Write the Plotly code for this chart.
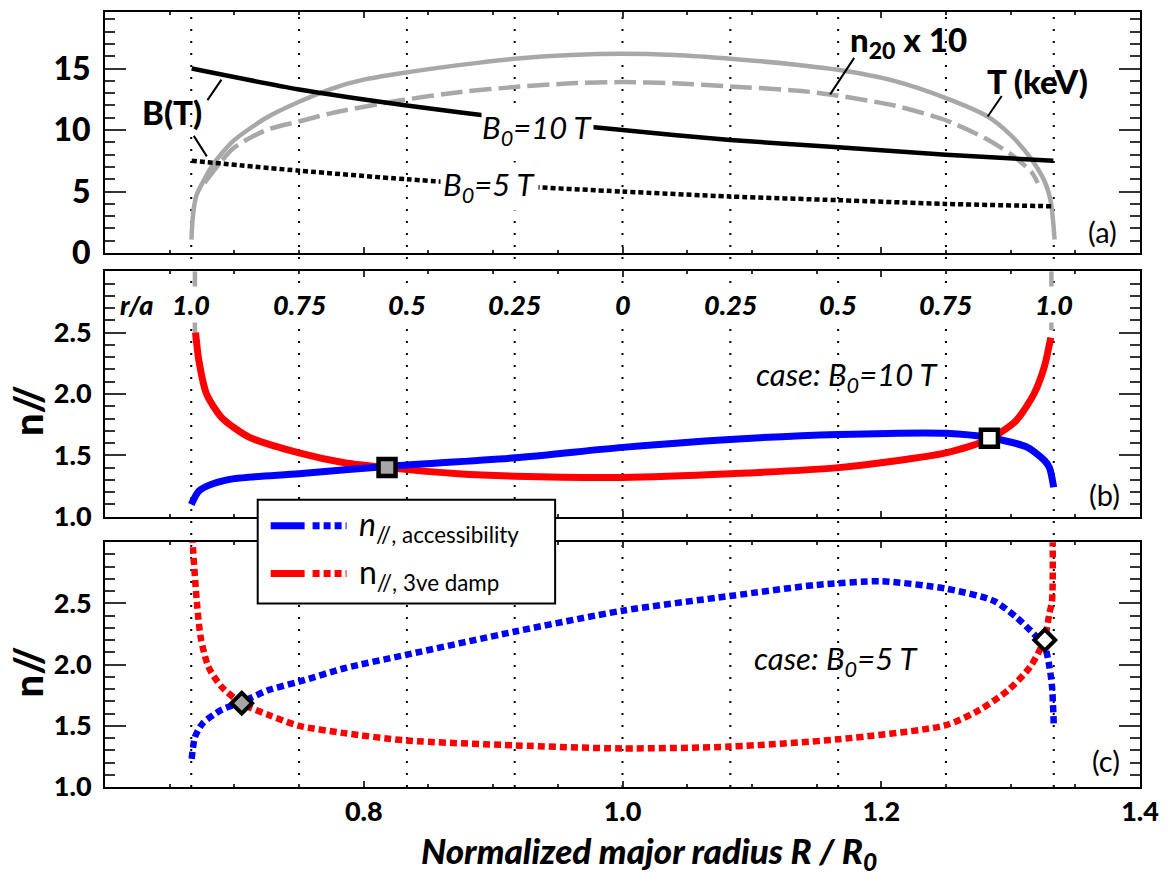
import plotly.graph_objects as go

# ---------------- data ----------------
# panel (a): profiles vs normalized major radius
R_T = [0.6668, 0.668, 0.6707, 0.6758, 0.6835, 0.699, 0.7247, 0.75, 0.776, 0.80, 0.8275, 0.875,
       0.9167, 0.96, 1.0, 1.04, 1.0833, 1.136, 1.1667, 1.21, 1.25, 1.2824, 1.30, 1.3156, 1.3264, 1.331, 1.334]
T_keV = [1.1, 3.1, 4.7, 5.8, 7.2, 9.1, 11.0, 12.3, 13.4, 14.1, 14.6, 15.3,
         15.8, 16.1, 16.2, 16.1, 15.8, 15.3, 14.9, 14.0, 12.6, 11.1, 9.6, 7.7, 5.8, 4.2, 1.1]

R_n = [0.677, 0.699, 0.7247, 0.75, 0.776, 0.8275, 0.875, 0.9167, 0.96, 1.0, 1.04, 1.0833,
       1.136, 1.1604, 1.21, 1.25, 1.28, 1.3006, 1.316, 1.321]
n20_x10 = [5.7, 8.5, 10.0, 10.7, 11.4, 12.4, 13.1, 13.5, 13.8, 13.9, 13.8, 13.55,
           13.2, 12.9, 12.0, 10.8, 9.35, 8.0, 6.6, 5.7]

R_B = [0.667, 0.75, 0.8333, 0.9167, 1.0, 1.0833, 1.1667, 1.25, 1.333]
B_10T = [15.0, 13.3, 12.0, 10.9, 10.0, 9.2, 8.6, 8.0, 7.5]
B_5T = [7.5, 6.7, 6.0, 5.45, 5.0, 4.6, 4.3, 4.0, 3.8]

# grey T-profile stubs visible at the top of panel (b)
R_stub = [0.6695, 0.6695, None, 1.3315, 1.3315]
T_stub = [3.0, 2.43, None, 3.0, 2.52]

# panel (b): B0 = 10 T
R_acc_10 = [0.6667, 0.6726, 0.684, 0.70, 0.75, 0.818, 0.917, 1.0, 1.083, 1.167, 1.25, 1.283,
            1.313, 1.326, 1.330, 1.3333]
n_acc_10 = [1.10, 1.21, 1.27, 1.31, 1.35, 1.41, 1.48, 1.565, 1.63, 1.67, 1.68, 1.645,
            1.565, 1.46, 1.40, 1.24]
R_damp_10 = [0.670, 0.6726, 0.6785, 0.690, 0.711, 0.75, 0.785, 0.818, 0.873, 0.917, 1.0, 1.083,
             1.167, 1.25, 1.283, 1.304, 1.318, 1.326, 1.331]
n_damp_10 = [2.50, 2.27, 2.0, 1.81, 1.65, 1.52, 1.44, 1.40, 1.35, 1.33, 1.32, 1.35,
             1.40, 1.52, 1.63, 1.78, 2.0, 2.22, 2.46]
R_cross_10 = [0.818, 1.2836]
n_cross_10 = [1.40, 1.64]

# panel (c): B0 = 5 T
R_acc_5 = [0.667, 0.6696, 0.6755, 0.690, 0.706, 0.726, 0.75, 0.785, 0.833, 0.917, 1.0, 1.083,
           1.15, 1.2, 1.25, 1.287, 1.304, 1.318, 1.326, 1.330, 1.332, 1.3333]
n_acc_5 = [1.23, 1.41, 1.52, 1.63, 1.695, 1.79, 1.86, 1.97, 2.08, 2.27, 2.44, 2.56,
           2.65, 2.68, 2.62, 2.52, 2.39, 2.25, 2.16, 1.98, 1.82, 1.52]
R_damp_5 = [0.6675, 0.668, 0.671, 0.674, 0.68, 0.690, 0.706, 0.726, 0.75, 0.785, 0.833, 0.917,
            1.0, 1.083, 1.167, 1.25, 1.276, 1.298, 1.315, 1.326, 1.330, 1.332, 1.3325]
n_damp_5 = [3.05, 2.95, 2.51, 2.22, 1.98, 1.82, 1.68, 1.59, 1.50, 1.44, 1.38, 1.34,
            1.315, 1.33, 1.39, 1.505, 1.63, 1.79, 1.98, 2.20, 2.42, 2.52, 3.05]
R_cross_5 = [0.7057, 1.3264]
n_cross_5 = [1.685, 2.20]
cross_fill = ['#a6a6a6', 'white']

# r/a grid (a/R0 = 1/3)
ra_labels = ['1.0', '0.75', '0.5', '0.25', '0', '0.25', '0.5', '0.75', '1.0']
ra_values = [1.0, 0.75, 0.5, 0.25, 0.0, 0.25, 0.5, 0.75, 1.0]
ra_side = [-1, -1, -1, -1, 0, 1, 1, 1, 1]
a_over_R0 = 1.0 / 3.0

x_ticks = [0.6, 0.8, 1.0, 1.2, 1.4]
x_ticktext = ['', '0.8', '1.0', '1.2', '1.4']
ya_ticks = [0, 5, 10, 15]
yn_ticks = [1.0, 1.5, 2.0, 2.5]
yn_ticktext = ['1.0', '1.5', '2.0', '2.5']

# ---------------- figure ----------------
GREY = '#a8a8a8'
BLUE = '#0000ff'
RED = '#ff0000'
FONT = 'Lato'
HEAVY = 900
W, H = 1169, 877
ML, MR, MT, MB = 105, 27, 10, 90
PW, PH = W - ML - MR, H - MT - MB


def px(xp, yp):
    return (xp - ML) / PW, (H - MB - yp) / PH


SM = dict(shape='spline', smoothing=0.7)
fig = go.Figure()

# panel (a)
fig.add_trace(go.Scatter(x=R_T, y=T_keV, mode='lines', line=dict(color=GREY, width=4.5, **SM),
                         xaxis='x', yaxis='y', showlegend=False))
fig.add_trace(go.Scatter(x=R_n, y=n20_x10, mode='lines',
                         line=dict(color=GREY, width=4.5, dash='22px,7px', **SM),
                         xaxis='x', yaxis='y', showlegend=False))
fig.add_trace(go.Scatter(x=R_B, y=B_10T, mode='lines', line=dict(color='black', width=4.5, **SM),
                         xaxis='x', yaxis='y', showlegend=False))
fig.add_trace(go.Scatter(x=R_B, y=B_5T, mode='lines',
                         line=dict(color='black', width=4.5, dash='5px,3px', **SM),
                         xaxis='x', yaxis='y', showlegend=False))

# panel (b)
fig.add_trace(go.Scatter(x=R_stub, y=T_stub, mode='lines', line=dict(color=GREY, width=4.5),
                         xaxis='x2', yaxis='y2', showlegend=False))
fig.add_trace(go.Scatter(x=R_damp_10, y=n_damp_10, mode='lines', line=dict(color=RED, width=7, **SM),
                         xaxis='x2', yaxis='y2', showlegend=False))
fig.add_trace(go.Scatter(x=R_acc_10, y=n_acc_10, mode='lines', line=dict(color=BLUE, width=7, **SM),
                         xaxis='x2', yaxis='y2', showlegend=False))
fig.add_trace(go.Scatter(x=R_cross_10, y=n_cross_10, mode='markers',
                         marker=dict(symbol='square', size=17, color=cross_fill,
                                     line=dict(color='black', width=4.5)),
                         xaxis='x2', yaxis='y2', showlegend=False))

# panel (c)
fig.add_trace(go.Scatter(x=R_damp_5, y=n_damp_5, mode='lines',
                         line=dict(color=RED, width=6.5, dash='7px,4px', **SM),
                         xaxis='x3', yaxis='y3', showlegend=False))
fig.add_trace(go.Scatter(x=R_acc_5, y=n_acc_5, mode='lines',
                         line=dict(color=BLUE, width=6.5, dash='7px,4px', **SM),
                         xaxis='x3', yaxis='y3', showlegend=False))
fig.add_trace(go.Scatter(x=R_cross_5, y=n_cross_5, mode='markers',
                         marker=dict(symbol='diamond', size=16, color=cross_fill,
                                     line=dict(color='black', width=4)),
                         xaxis='x3', yaxis='y3', showlegend=False))

# axes
xcommon = dict(range=[0.6, 1.4], showline=True, linecolor='black', linewidth=2, mirror='allticks',
               ticks='inside', ticklen=6, tickwidth=1.5, tickcolor='#333333',
               tickvals=x_ticks, showgrid=False, zeroline=False,
               minor=dict(ticks='inside', ticklen=3, dtick=0.05, tick0=0.6, tickwidth=1.5,
                          tickcolor='#333333', showgrid=False))
dom_a = [px(0, 251.7)[1], px(0, 10)[1]]
dom_b = [px(0, 516)[1], px(0, 270)[1]]
dom_c = [0.0, px(0, 541.5)[1]]

ycommon = dict(showline=True, linecolor='black', linewidth=2, mirror='allticks',
               ticks='inside', ticklen=21, tickwidth=1.5, tickcolor='#333333',
               showgrid=False, zeroline=False, ticklabelstandoff=6)

fig.update_layout(
    width=W, height=H, margin=dict(l=ML, r=MR, t=MT, b=MB),
    paper_bgcolor='white', plot_bgcolor='rgba(0,0,0,0)',
    font=dict(family=FONT, color='black'),
    xaxis=dict(**xcommon, anchor='y', showticklabels=False),
    xaxis2=dict(**xcommon, anchor='y2', matches='x', showticklabels=False),
    xaxis3=dict(**xcommon, anchor='y3', matches='x', showticklabels=True, ticktext=x_ticktext,
                tickfont=dict(size=27, weight=HEAVY, family=FONT), ticklabelstandoff=0),
    yaxis=dict(**ycommon, domain=dom_a, anchor='x', range=[0, 19.6], tickvals=ya_ticks,
               tickfont=dict(size=32, weight=HEAVY, family=FONT),
               minor=dict(ticks='inside', ticklen=10, dtick=1, tick0=0, tickwidth=1.5,
                          tickcolor='#333333', showgrid=False)),
    yaxis2=dict(**ycommon, domain=dom_b, anchor='x2', range=[1.0, 3.0], tickvals=yn_ticks,
                ticktext=yn_ticktext, tickfont=dict(size=27, weight=HEAVY, family=FONT),
                minor=dict(ticks='inside', ticklen=10, dtick=0.1, tick0=1.0, tickwidth=1.5,
                           tickcolor='#333333', showgrid=False)),
    yaxis3=dict(**ycommon, domain=dom_c, anchor='x3', range=[1.0, 3.0], tickvals=yn_ticks,
                ticktext=yn_ticktext, tickfont=dict(size=27, weight=HEAVY, family=FONT),
                minor=dict(ticks='inside', ticklen=10, dtick=0.1, tick0=1.0, tickwidth=1.5,
                           tickcolor='#333333', showgrid=False)),
)

shapes = []
R_grid = [1.0 + s * v * a_over_R0 for s, v in zip(ra_side, ra_values)]
for Rg in R_grid:
    shapes.append(dict(type='line', xref='x', yref='paper', x0=Rg, x1=Rg, y0=0, y1=1,
                       line=dict(color='black', width=2, dash='2px,10px'), layer='below'))

# legend box (manual, two line styles per entry)
bx0, by0 = px(258, 603)
bx1, by1 = px(556, 499)
shapes.append(dict(type='rect', xref='paper', yref='paper', x0=bx0, x1=bx1, y0=by0, y1=by1,
                   fillcolor='white', line=dict(color='black', width=2), layer='above'))
for yrow, col in [(525, BLUE), (573, RED)]:
    sx0, sy = px(271, yrow)
    sx1, _ = px(305, yrow)
    dx0, _ = px(313, yrow)
    dx1, _ = px(347, yrow)
    shapes.append(dict(type='line', xref='paper', yref='paper', x0=sx0, x1=sx1, y0=sy, y1=sy,
                       line=dict(color=col, width=7), layer='above'))
    shapes.append(dict(type='line', xref='paper', yref='paper', x0=dx0, x1=dx1, y0=sy, y1=sy,
                       line=dict(color=col, width=7, dash='7px,4px'), layer='above'))
fig.update_layout(shapes=shapes)

ann = []
bold = dict(family=FONT, size=33, weight=HEAVY, color='black')
ital = dict(family=FONT, size=31, style='italic', color='black')
reg = dict(family=FONT, size=29, color='black')
C = dict(xanchor='center', yanchor='middle', showarrow=False)

# panel (a) labels
ann.append(dict(x=0.6517, y=11.44, xref='x', yref='y', text='B(T)', font=bold, **C))
ann.append(dict(x=1.2207, y=17.2, xref='x', yref='y', text='n<sub>20</sub> x 10', font=bold, **C))
ann.append(dict(x=1.321, y=13.96, xref='x', yref='y', text='T (keV)', font=bold, **C))
ann.append(dict(x=0.934, y=10.05, xref='x', yref='y', text='B<sub>0</sub>=10 T',
                font=ital, bgcolor='white', borderpad=0, **C))
ann.append(dict(x=0.897, y=5.42, xref='x', yref='y', text='B<sub>0</sub>=5 T',
                font=ital, bgcolor='white', borderpad=2, **C))
ann.append(dict(x=1.371, y=1.76, xref='x', yref='y', text='(a)', font=reg, **C))
# leader lines
for (xa, ya, axp, ayp) in [(0.690, 14.1, -15, 22), (0.6787, 7.86, -14, -22),
                           (1.1605, 12.9, 25, -38), (1.2823, 11.1, 15, -22)]:
    ann.append(dict(x=xa, y=ya, xref='x', yref='y', text='', showarrow=True, arrowhead=0,
                    arrowwidth=2, arrowcolor='black', ax=axp, ay=ayp, standoff=0, startstandoff=0))

# panel (b) labels
rafont = dict(family=FONT, size=27, weight=HEAVY, style='italic', color='black')
ann.append(dict(x=0.6247, y=2.73, xref='x2', yref='y2', text='r/a', font=rafont, **C))
for Rg, lab in zip(R_grid, ra_labels):
    ann.append(dict(x=Rg, y=2.73, xref='x2', yref='y2', text=lab, font=rafont,
                    bgcolor='white', borderpad=1, **C))
ann.append(dict(x=1.1736, y=2.14, xref='x2', yref='y2', text='case: B<sub>0</sub>=10 T',
                font=ital, **C))
ann.append(dict(x=1.3726, y=1.18, xref='x2', yref='y2', text='(b)', font=reg, **C))

# panel (c) labels
ann.append(dict(x=1.1652, y=2.035, xref='x3', yref='y3', text='case: B<sub>0</sub>=5 T',
                font=ital, **C))
ann.append(dict(x=1.3734, y=1.22, xref='x3', yref='y3', text='(c)', font=reg, **C))

# y titles
for yp in (410, 672):
    xx, yy = px(28, yp)
    ann.append(dict(x=xx, y=yy, xref='paper', yref='paper', text='n//', textangle=-90,
                    font=dict(family=FONT, size=40, weight=HEAVY), **C))

# x title
xx, yy = px(650, 853)
ann.append(dict(x=xx, y=yy, xref='paper', yref='paper',
                text='Normalized major radius R / R<sub>0</sub>',
                font=dict(family=FONT, size=35, weight=HEAVY, style='italic'), **C))

# legend texts
for yrow, txt in [(525, '<i>n</i><sub>//, accessibility</sub>'), (573, 'n<sub>//, 3ve damp</sub>')]:
    xx, yy = px(357, yrow)
    ann.append(dict(x=xx, y=yy, xref='paper', yref='paper', text=txt, showarrow=False,
                    xanchor='left', yanchor='middle', font=dict(family=FONT, size=32)))

fig.update_layout(annotations=ann)
fig.write_html('out.html', config={'displayModeBar': False},
               post_script="document.body.style.margin='0px';document.body.style.overflow='hidden';")
